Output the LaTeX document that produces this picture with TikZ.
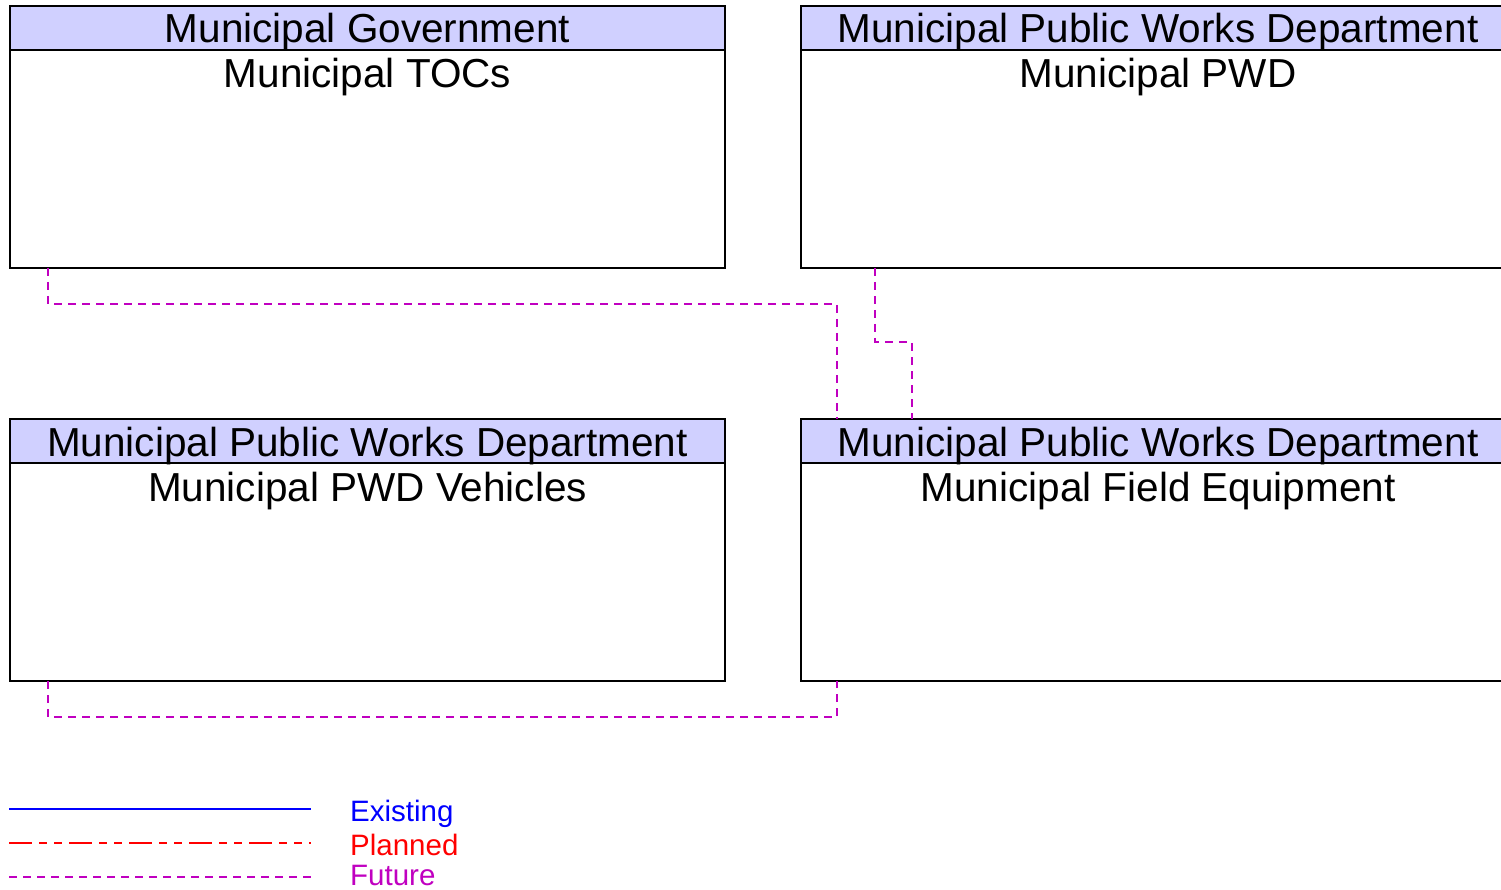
\documentclass[tikz,border=0pt]{standalone}
\usepackage{fontspec}
\setmainfont{Liberation Sans}
\definecolor{hdrfill}{RGB}{208,208,255}
\definecolor{futcol}{RGB}{192,0,192}
\definecolor{plancol}{RGB}{255,0,0}
\definecolor{excol}{RGB}{0,0,255}
\begin{document}
\begin{tikzpicture}[x=1pt,y=-1pt,
  box/.style={draw=black, line width=1.3pt, fill=white, minimum width=715pt, minimum height=262pt, anchor=north west, inner sep=0pt, outer sep=0pt},
  hdrbox/.style={draw=black, line width=1.3pt, fill=hdrfill, minimum width=715pt, minimum height=44pt, anchor=north west, inner sep=0pt, outer sep=0pt},
  titletext/.style={font=\fontsize{40.5}{44}\selectfont, anchor=base, inner sep=0pt},
  futureline/.style={draw=futcol, line width=1.2pt, dash pattern=on 8pt off 6pt},
  plannedline/.style={draw=plancol, line width=1.2pt, dash pattern=on 23pt off 7pt on 8pt off 7pt on 8pt off 7pt},
  existline/.style={draw=excol, line width=2.4pt},
  legtext/.style={font=\fontsize{29.5}{32}\selectfont, anchor=base west, inner sep=0pt}]
\useasboundingbox (0,0) rectangle (1501,890);
\clip (0,0) rectangle (1501,890);
% top-left
\node[box] (toc) at (10,6) {};
\node[hdrbox] (tochdr) at (10,6) {};
\node[titletext] (tocorg) at (367.5,43) {Municipal Government};
\node[titletext] (tocname) at (367.5,88) {Municipal TOCs};
% top-right
\node[box] (pwd) at (801,6) {};
\node[hdrbox] (pwdhdr) at (801,6) {};
\node[titletext] (pwdorg) at (1158,43) {Municipal Public Works Department};
\node[titletext] (pwdname) at (1158,88) {Municipal PWD};
% bottom-left
\node[box] (veh) at (10,419) {};
\node[hdrbox] (vehhdr) at (10,419) {};
\node[titletext] (vehorg) at (367.5,456) {Municipal Public Works Department};
\node[titletext] (vehname) at (367.5,501) {Municipal PWD Vehicles};
% bottom-right
\node[box] (fe) at (801,419) {};
\node[hdrbox] (fehdr) at (801,419) {};
\node[titletext] (feorg) at (1158,456) {Municipal Public Works Department};
\node[titletext] (fename) at (1158,501) {Municipal Field Equipment};
% connectors
\draw[futureline] ([xshift=38pt]toc.south west) -- ++(0,36) -| ([xshift=36pt]fehdr.north west);
\draw[futureline] ([xshift=74pt]pwd.south west) -- ++(0,74) -| ([xshift=111pt]fehdr.north west);
\draw[futureline] ([xshift=38pt]veh.south west) -- ++(0,36) -| ([xshift=36pt]fe.south west);
% legend
\coordinate (exa) at (9,809); \coordinate (exb) at (311,809);
\coordinate (pla) at (9,843); \coordinate (plb) at (311,843);
\coordinate (fua) at (9,877); \coordinate (fub) at (311,877);
\draw[existline] (exa) -- (exb);
\draw[plannedline] (pla) -- (plb);
\draw[futureline] (fua) -- (fub);
\node[legtext, text=excol] (exlab) at (350,821) {Existing};
\node[legtext, text=plancol] (pllab) at (350,855) {Planned};
\node[legtext, text=futcol] (fulab) at (350,885) {Future};
\end{tikzpicture}
\end{document}
